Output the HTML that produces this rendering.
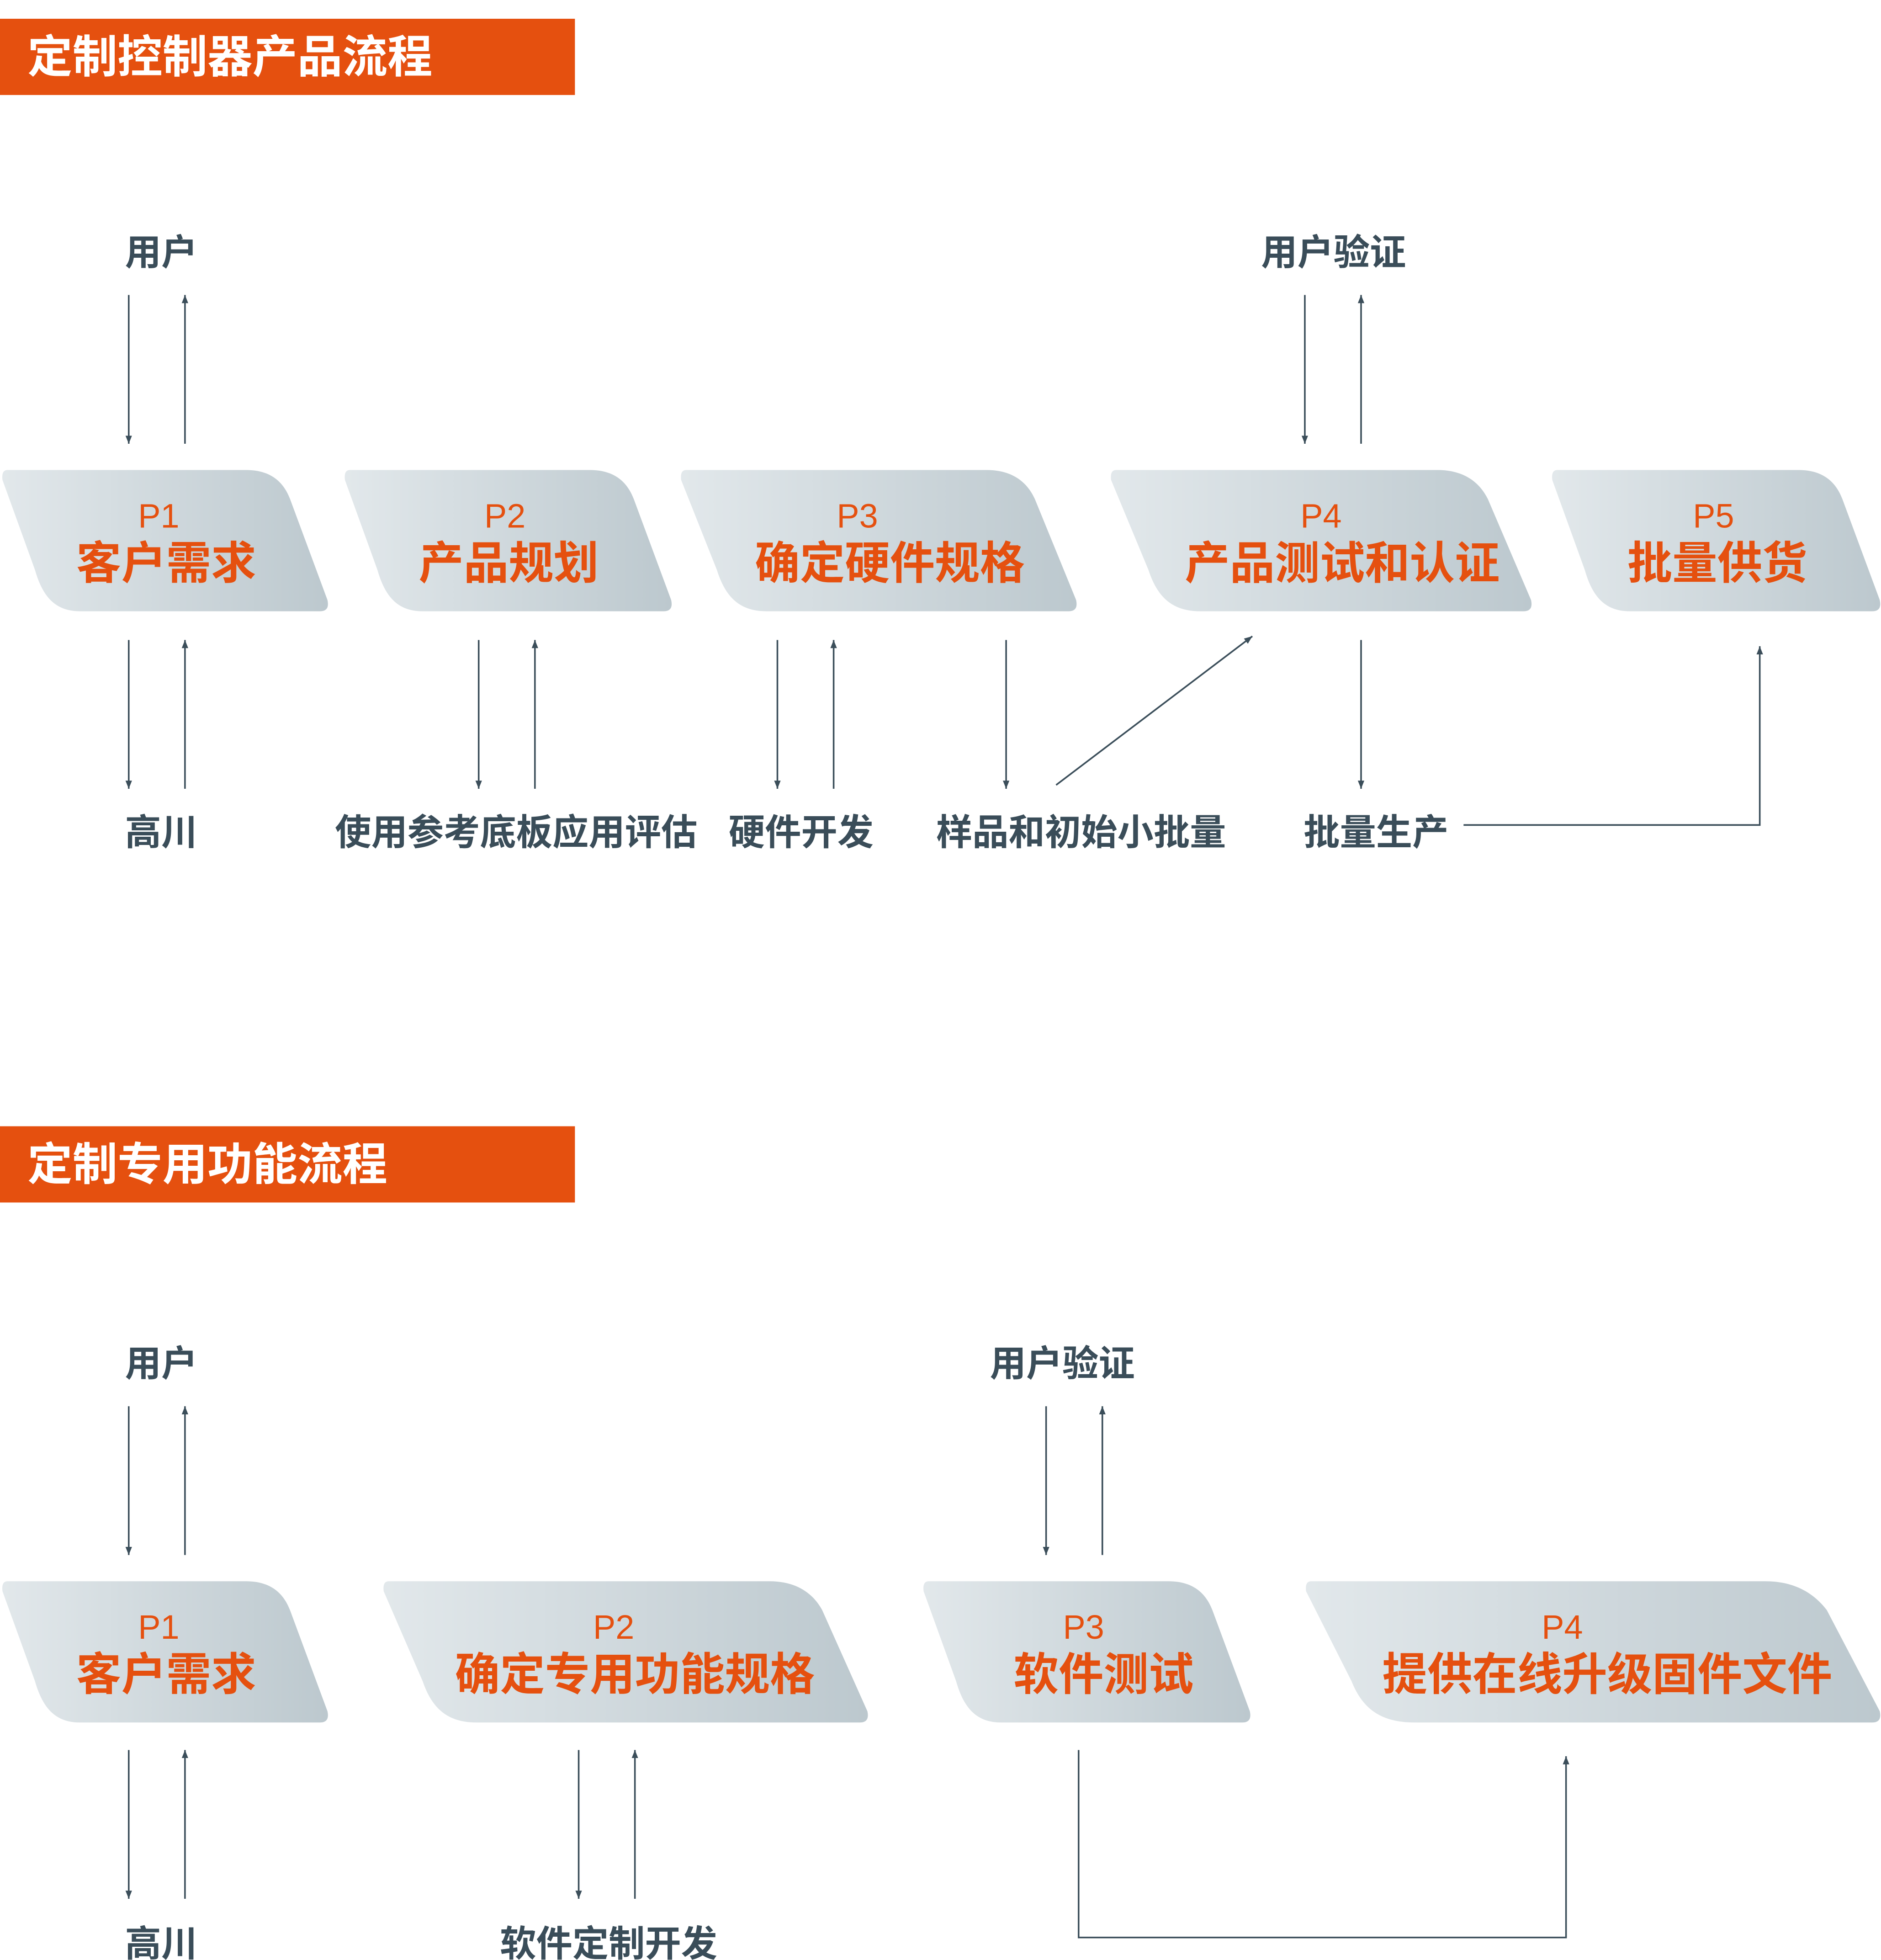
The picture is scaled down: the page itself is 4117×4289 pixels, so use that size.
<!DOCTYPE html>
<html><head><meta charset="utf-8"><style>
html,body{margin:0;padding:0;background:#fff;}
svg{display:block;}
text{font-family:"Liberation Sans","Noto Sans CJK SC",sans-serif;}
.h{fill:#fff;font-weight:700;font-size:36px;}
.p{fill:#e5500f;font-size:27px;text-anchor:middle;}
.t{fill:#e5500f;font-weight:700;font-size:36px;text-anchor:middle;}
.g{fill:#3a4d59;font-weight:700;font-size:29px;}
.l{stroke:#3b4e5a;stroke-width:1.3;fill:none;}
</style></head><body>
<svg width="4117" height="4289" viewBox="0 0 1505 1568" preserveAspectRatio="none" xmlns="http://www.w3.org/2000/svg">
<defs>
<linearGradient id="gr" x1="0" y1="0" x2="1" y2="0"><stop offset="0" stop-color="#e2e8eb"/><stop offset="1" stop-color="#bcc8ce"/></linearGradient>
<marker id="a" viewBox="0 0 10 10" refX="10" refY="5" markerWidth="5" markerHeight="5" orient="auto"><path d="M0,1 L10,5 L0,9Z" fill="#3b4e5a"/></marker>
</defs>
<rect x="0" y="15" width="460" height="61" fill="#e5500f"/>
<text class="h" x="22" y="58">定制控制器产品流程</text>
<rect x="0" y="901" width="460" height="61" fill="#e5500f"/>
<text class="h" x="22" y="944">定制专用功能流程</text>

<g fill="url(#gr)">
<path d="M6,376 H197 c20,0 30,10 35,23 l30,81 q2,9 -6,9 H64 c-20,0 -30,-12 -36,-33 l-26,-72 q-1,-8 4,-8Z"/>
<path d="M280,376 H472 c20,0 30,10 35,23 l30,81 q2,9 -6,9 H338 c-20,0 -30,-12 -36,-33 l-26,-72 q-1,-8 4,-8Z"/>
<path d="M549,376 H789.4 c22,0 33,11 38.5,23 l33.1,81 q2,9 -6,9 H613.2 c-22,0 -33,-12 -39.6,-33 l-28.6,-72 q-1,-8 4,-8Z"/>
<path d="M893,376 H1150.1 c23,0 34.5,11.5 40.25,23 l34.65,81 q2,9 -6,9 H960.3 c-23,0 -34.5,-12 -41.4,-33 l-29.9,-72 q-1,-8 4,-8Z"/>
<path d="M1246,376 H1439 c20,0 30,10 35,23 l30,81 q2,9 -6,9 H1304 c-20,0 -30,-12 -36,-33 l-26,-72 q-1,-8 4,-8Z"/>
<path d="M6,1265 H197 c20,0 30,10 35,23 l30,81 q2,9 -6,9 H64 c-20,0 -30,-12 -36,-33 l-26,-72 q-1,-8 4,-8Z"/>
<path d="M311,1265 H615.8 c24,0 36,12 42,23 l36.2,81 q2,9 -6,9 H381.4 c-24,0 -36,-12 -43.2,-33 l-31.2,-72 q-1,-8 4,-8Z"/>
<path d="M743,1265 H935 c20,0 30,10 35,23 l30,81 q2,9 -6,9 H801 c-20,0 -30,-12 -36,-33 l-26,-72 q-1,-8 4,-8Z"/>
<path d="M1049,1265 H1412.6 c28,0 42,14 49,23 l42.4,81 q2,9 -6,9 H1131.8 c-28,0 -42,-12 -50.4,-33 l-36.4,-72 q-1,-8 4,-8Z"/>
</g>

<text class="p" x="127" y="422">P1</text><text class="t" x="133" y="463">客户需求</text>
<text class="p" x="404" y="422">P2</text><text class="t" x="407" y="463">产品规划</text>
<text class="p" x="686" y="422">P3</text><text class="t" x="712" y="463">确定硬件规格</text>
<text class="p" x="1057" y="422">P4</text><text class="t" x="1074" y="463">产品测试和认证</text>
<text class="p" x="1371" y="422">P5</text><text class="t" x="1374" y="463">批量供货</text>

<text class="p" x="127" y="1311">P1</text><text class="t" x="133" y="1352">客户需求</text>
<text class="p" x="491" y="1311">P2</text><text class="t" x="508" y="1352">确定专用功能规格</text>
<text class="p" x="867" y="1311">P3</text><text class="t" x="883" y="1352">软件测试</text>
<text class="p" x="1250" y="1311">P4</text><text class="t" x="1286" y="1352">提供在线升级固件文件</text>

<text class="g" x="100" y="212">用户</text>
<text class="g" x="1009" y="212">用户验证</text>
<text class="g" x="100" y="676">高川</text>
<text class="g" x="268" y="676">使用参考底板应用评估</text>
<text class="g" x="583" y="676">硬件开发</text>
<text class="g" x="749" y="676">样品和初始小批量</text>
<text class="g" x="1043" y="676">批量生产</text>
<text class="g" x="100" y="1101">用户</text>
<text class="g" x="792" y="1101">用户验证</text>
<text class="g" x="100" y="1565">高川</text>
<text class="g" x="400" y="1565">软件定制开发</text>

<g class="l">
<path d="M103,236V355" marker-end="url(#a)"/><path d="M148,355V236" marker-end="url(#a)"/>
<path d="M103,512V631" marker-end="url(#a)"/><path d="M148,631V512" marker-end="url(#a)"/>
<path d="M383,512V631" marker-end="url(#a)"/><path d="M428,631V512" marker-end="url(#a)"/>
<path d="M622,512V631" marker-end="url(#a)"/><path d="M667,631V512" marker-end="url(#a)"/>
<path d="M805,512V631" marker-end="url(#a)"/>
<path d="M845,628L1002,509" marker-end="url(#a)"/>
<path d="M1044,236V355" marker-end="url(#a)"/><path d="M1089,355V236" marker-end="url(#a)"/>
<path d="M1089,512V631" marker-end="url(#a)"/>
<path d="M1171,660H1408V517" marker-end="url(#a)"/>
<path d="M103,1125V1244" marker-end="url(#a)"/><path d="M148,1244V1125" marker-end="url(#a)"/>
<path d="M103,1400V1519" marker-end="url(#a)"/><path d="M148,1519V1400" marker-end="url(#a)"/>
<path d="M463,1400V1519" marker-end="url(#a)"/><path d="M508,1519V1400" marker-end="url(#a)"/>
<path d="M837,1125V1244" marker-end="url(#a)"/><path d="M882,1244V1125" marker-end="url(#a)"/>
<path d="M863,1400V1550H1253V1405" marker-end="url(#a)"/>
</g>
</svg>
</body></html>
